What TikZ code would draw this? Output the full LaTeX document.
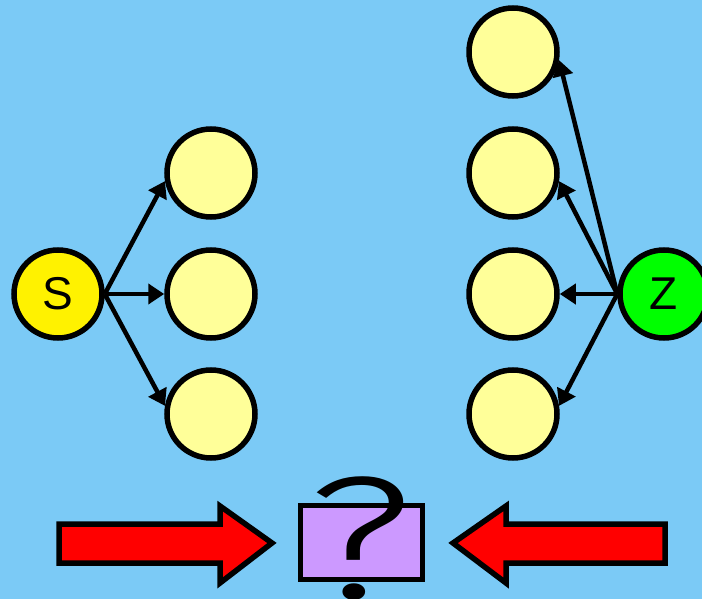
\documentclass[tikz,border=0pt]{standalone}
\usepackage{fontspec}
\setmainfont{Liberation Sans}
\newfontfamily\qfont{Fira Sans Light}
\usetikzlibrary{arrows.meta}
\definecolor{bgblue}{RGB}{123,202,246}
\definecolor{paleyellow}{RGB}{255,255,153}
\definecolor{lilac}{RGB}{204,153,255}
\tikzset{
  unit/.style={circle, draw=black, line width=5.5pt, minimum size=88pt, inner sep=0pt, fill=paleyellow},
  src/.style={unit, fill=yellow, font=\fontsize{46}{46}\selectfont},
  zsrc/.style={unit, fill=green, font=\fontsize{46}{46}\selectfont},
  conn/.style={line width=4.5pt, -{Triangle[length=16pt,width=20pt]}},
  bigarrow/.style={fill=red, draw=black, line width=5.5pt, line join=miter},
}
\begin{document}
\begin{tikzpicture}[x=1pt,y=-1pt]
\useasboundingbox (0,0) rectangle (702,599);
\clip (0,0) rectangle (702,599);
\fill[bgblue] (0,0) rectangle (702,599);
% left column
\node[src] (S) at (58,294) {S};
\node[unit] (a1) at (211,173) {};
\node[unit] (a2) at (211,294) {};
\node[unit] (a3) at (211,414) {};
% right column
\node[unit] (b1) at (513,52) {};
\node[unit] (b2) at (513,173) {};
\node[unit] (b3) at (513,294) {};
\node[unit] (b4) at (513,414) {};
\node[zsrc] (Z) at (664,294) {Z};
% connectors
\draw[conn] (S.east) -- (a1.190);
\draw[conn] (S.east) -- (a2.west);
\draw[conn] (S.east) -- (a3.170);
\draw[conn] (Z.west) -- (b1.350);
\draw[conn] (Z.west) -- (b2.350);
\draw[conn] (Z.west) -- (b3.east);
\draw[conn] (Z.west) -- (b4.10);
% bottom
\draw[bigarrow] (59,524) -- (220,524) -- (220,506) -- (272,543) -- (220,583) -- (220,563) -- (59,563) -- cycle;
\draw[bigarrow] (665,524) -- (506,524) -- (506,506) -- (453,543) -- (506,583) -- (506,563) -- (665,563) -- cycle;
\node[draw=black, fill=lilac, line width=5.5pt, minimum width=122pt, minimum height=74pt, inner sep=0pt] (box) at (361.5,542.5) {};
\node[anchor=base, inner sep=0pt, xscale=1.35, font=\qfont\fontsize{175}{175}\selectfont] (q) at (360,598) {?};
\end{tikzpicture}
\end{document}
